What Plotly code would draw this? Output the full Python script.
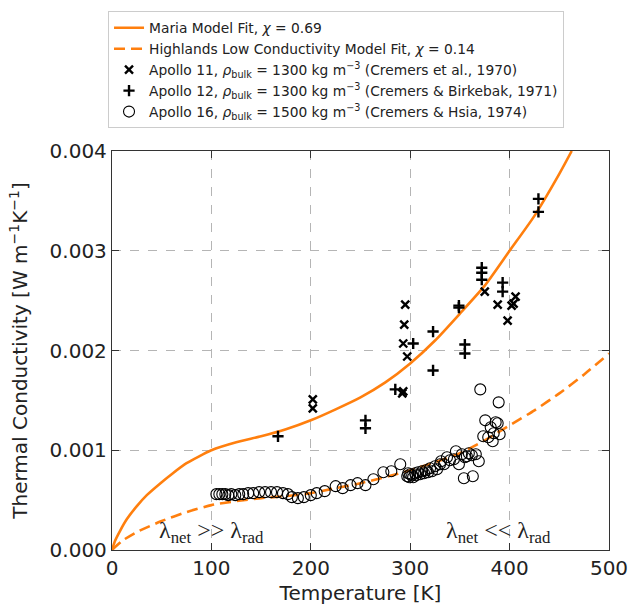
import plotly.graph_objects as go

# Model fit curves, k in units of W m^-1 K^-1
maria_T = [0, 3, 8, 15, 25, 35, 50, 60, 75, 100, 125, 150, 175, 200, 225, 250, 275, 300, 325, 350, 375, 400, 425, 450, 462.5]
maria_k = [0, 0.09, 0.19, 0.31, 0.44, 0.55, 0.68, 0.76, 0.87, 1.0, 1.08, 1.14, 1.21, 1.30, 1.41, 1.53, 1.68, 1.87, 2.10, 2.37, 2.65, 3.0, 3.35, 3.77, 4.0]

high_T = [0, 10, 25, 50, 75, 100, 125, 150, 175, 200, 225, 250, 275, 300, 325, 350, 375, 400, 425, 450, 475, 500]
high_k = [0, 0.09, 0.18, 0.29, 0.38, 0.45, 0.49, 0.52, 0.54, 0.57, 0.62, 0.67, 0.73, 0.80, 0.88, 0.97, 1.10, 1.25, 1.40, 1.57, 1.76, 1.97]

# Apollo 11
a11_T = [202, 202, 292, 293, 293, 294, 295, 297, 375, 388, 398, 402, 404, 406]
a11_k = [1.42, 1.51, 1.57, 1.59, 2.07, 2.26, 2.46, 1.94, 2.59, 2.46, 2.30, 2.45, 2.47, 2.54]

# Apollo 12
a12_T = [167, 255, 255, 285, 303, 323, 323, 349, 349, 355, 355, 372, 372, 372, 393, 393, 429, 429]
a12_k = [1.14, 1.30, 1.22, 1.61, 2.07, 2.19, 1.80, 2.45, 2.43, 2.06, 1.97, 2.83, 2.78, 2.71, 2.68, 2.59, 3.52, 3.39]

# Apollo 16
a16_T = [105, 108, 111, 114, 117, 120, 124, 128, 132, 137, 142, 148, 154, 160, 166, 172, 177,
         181, 187, 193, 200, 206, 214, 225, 232, 240, 247, 255, 263, 273, 281, 290,
         297, 298, 299, 300, 302, 303, 305, 306, 308, 310, 312, 314, 316, 318, 320, 322, 325, 327, 330,
         331, 334, 337, 340, 344, 346, 349, 352, 355, 357, 359, 362, 366, 369, 354, 363,
         370.5, 389, 373.5, 378.5, 375.5, 381, 383, 386, 388, 390, 384]
a16_k = [0.56, 0.56, 0.56, 0.56, 0.55, 0.56, 0.55, 0.56, 0.56, 0.57, 0.57, 0.58, 0.58, 0.58, 0.58, 0.57, 0.56,
         0.53, 0.52, 0.53, 0.55, 0.57, 0.59, 0.64, 0.62, 0.65, 0.67, 0.65, 0.71, 0.78, 0.79, 0.86,
         0.74, 0.77, 0.73, 0.76, 0.75, 0.73, 0.77, 0.75, 0.78, 0.76, 0.79, 0.77, 0.80, 0.78, 0.82, 0.79, 0.84, 0.81, 0.86,
         0.89, 0.86, 0.93, 0.90, 0.91, 0.99, 0.86, 0.96, 0.93, 0.94, 0.97, 0.95, 0.96, 0.89, 0.72, 0.74,
         1.61, 1.48, 1.14, 1.13, 1.30, 1.23, 1.09, 1.28, 1.27, 1.16, 1.17]

x_ticks = [0, 100, 200, 300, 400, 500]
y_ticks = [0.000, 0.001, 0.002, 0.003, 0.004]

scale = 1e-3
ORANGE = "#ff7f0e"

fig = go.Figure()
fig.add_trace(go.Scatter(x=maria_T, y=[v * scale for v in maria_k], mode="lines",
                         line=dict(color=ORANGE, width=2.6, shape="spline", smoothing=0.6),
                         name="Maria Model Fit, <i>χ</i> = 0.69"))
fig.add_trace(go.Scatter(x=high_T, y=[v * scale for v in high_k], mode="lines",
                         line=dict(color=ORANGE, width=2.6, dash="11px,6px", shape="spline", smoothing=0.6),
                         name="Highlands Low Conductivity Model Fit, <i>χ</i> = 0.14"))
fig.add_trace(go.Scatter(x=a11_T, y=[v * scale for v in a11_k], mode="markers",
                         marker=dict(symbol="x-thin", size=8, color="black",
                                     line=dict(color="black", width=2.4)),
                         name="Apollo 11, <i>ρ</i><sub>bulk</sub> = 1300 kg m<sup>−3</sup> (Cremers et al., 1970)"))
fig.add_trace(go.Scatter(x=a12_T, y=[v * scale for v in a12_k], mode="markers",
                         marker=dict(symbol="cross-thin", size=8, color="black",
                                     line=dict(color="black", width=2.4)),
                         name="Apollo 12, <i>ρ</i><sub>bulk</sub> = 1300 kg m<sup>−3</sup> (Cremers &amp; Birkebak, 1971)"))
fig.add_trace(go.Scatter(x=a16_T, y=[v * scale for v in a16_k], mode="markers",
                         marker=dict(symbol="circle-open", size=11, color="black",
                                     line=dict(color="black", width=1.1)),
                         name="Apollo 16, <i>ρ</i><sub>bulk</sub> = 1500 kg m<sup>−3</sup> (Cremers &amp; Hsia, 1974)"))

fig.add_annotation(x=100, y=0.18e-3, xref="x", yref="y",
                   text="λ<sub>net</sub> &gt;&gt; λ<sub>rad</sub>", showarrow=False,
                   font=dict(family="Liberation Serif", size=24, color="#222"))
fig.add_annotation(x=389, y=0.18e-3, xref="x", yref="y",
                   text="λ<sub>net</sub> &lt;&lt; λ<sub>rad</sub>", showarrow=False,
                   font=dict(family="Liberation Serif", size=24, color="#222"))

axis_common = dict(showline=True, linecolor="#333", linewidth=1.3, mirror="ticks",
                   ticks="inside", ticklen=7, tickwidth=1.3, tickcolor="#333",
                   showgrid=True, gridcolor="#b5b5b5", griddash="dash", gridwidth=1,
                   zeroline=False, tickfont=dict(size=20, color="#222"),
                   title_font=dict(size=20, color="#222"))

fig.update_xaxes(range=[0, 500], tickvals=x_ticks, ticktext=[str(t) for t in x_ticks],
                 title_text="Temperature [K]", title_standoff=6, **axis_common)
fig.update_yaxes(range=[0, 0.004], tickvals=y_ticks, ticktext=[f"{t:.3f}" for t in y_ticks],
                 title_text="Thermal Conductivity [W m<sup>−1</sup>K<sup>−1</sup>]",
                 title_standoff=16, **axis_common)

fig.update_layout(
    width=640, height=612,
    margin=dict(l=112, r=22, t=147, b=53),
    paper_bgcolor="white", plot_bgcolor="white",
    font=dict(family="DejaVu Sans", color="#222"),
    showlegend=True,
    legend=dict(x=-0.008, y=1.35, xanchor="left", yanchor="top",
                bgcolor="white", bordercolor="#cccccc", borderwidth=1,
                font=dict(size=13.8, color="#222"), itemwidth=30,
                tracegroupgap=0),
)

fig.write_html("out.html")
